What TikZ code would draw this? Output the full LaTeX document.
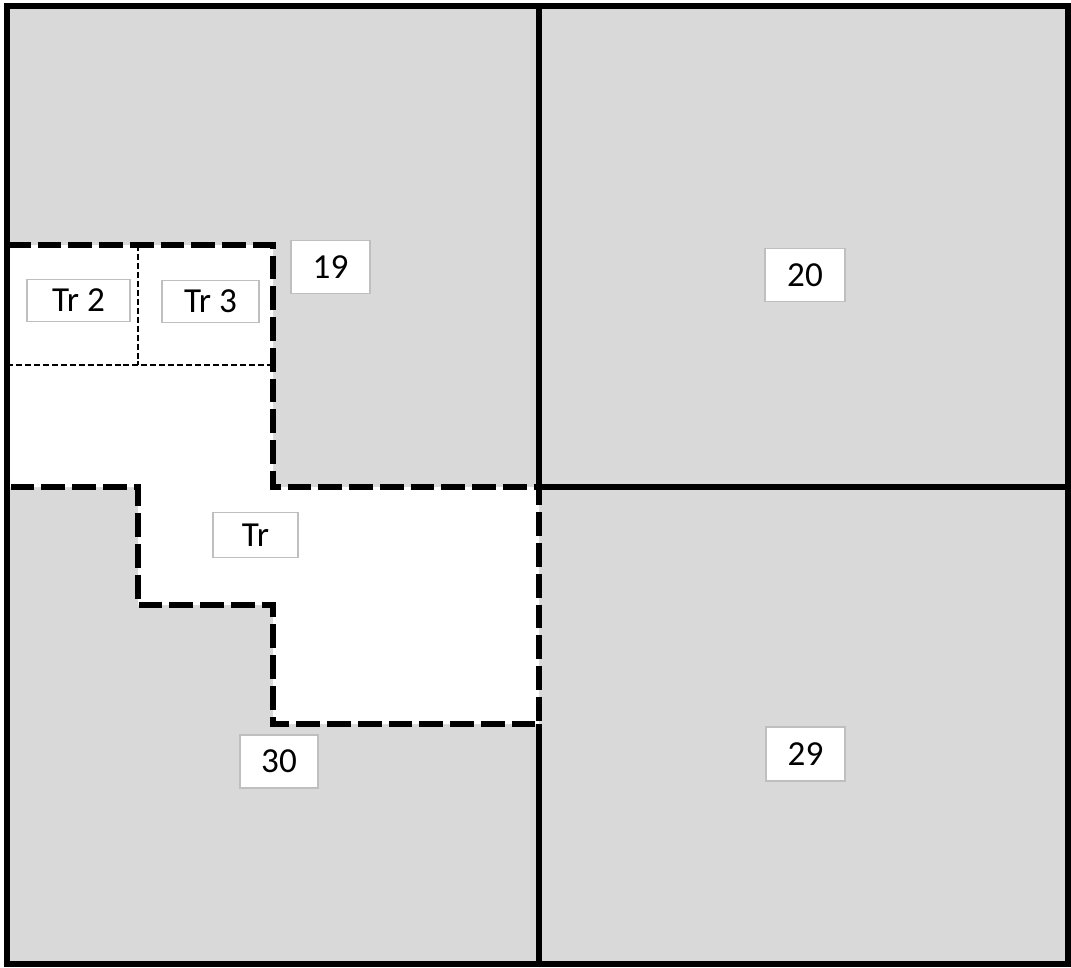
\documentclass[tikz,border=0pt]{standalone}
\usepackage{fontspec}
\setmainfont{Carlito}
\usepackage{xcolor}
\usepackage{tikz}
\usetikzlibrary{positioning}

\definecolor{cellgray}{HTML}{D9D9D9}
\definecolor{boxgray}{HTML}{BFBFBF}

\begin{document}
\begin{tikzpicture}[x=0.02cm, y=-0.02cm,
  lbl/.style={rectangle, draw=boxgray, line width=1pt, fill=white, inner sep=0pt,
    font=\fontsize{20}{22}\selectfont, minimum height=1.06cm},
  bigdash/.style={line width=3.4pt, dash pattern=on 13.5pt off 4pt},
  smalldash/.style={line width=1.5pt, dash pattern=on 3.4pt off 1.7pt}]
\useasboundingbox (0,0) rectangle (1071,967);
% Felder
\fill[cellgray] (7,6) rectangle (1068,964);
\fill[white] (7,245) -- (273,245) -- (273,487) -- (539,487) -- (539,724) -- (273,724)
  -- (273,605) -- (138,605) -- (138,487) -- (7,487) -- cycle;
% feste Grenzen
\draw[line width=3.4pt] (539,6) -- (539,487);
\draw[line width=3.4pt] (539,724) -- (539,964);
\draw[line width=3.4pt] (539,487) -- (1068,487);
% Teilung Tr 2 / Tr 3
\draw[smalldash] (7,365) -- (273,365);
\draw[smalldash] (138,245) -- (138,365);
% Umriss der Trasse
\draw[bigdash] (7,245) -- (273,245) -- (273,487) -- (539,487) -- (539,724) -- (273,724)
  -- (273,605) -- (138,605) -- (138,487) -- (7,487);
\draw[line width=3.4pt] (7,6) rectangle (1068,964);
% Beschriftungen
\node[lbl, minimum width=2.06cm, minimum height=0.84cm] (tr2) at (78.5,300.5) {Tr 2};
\node[lbl, minimum width=1.94cm, minimum height=0.84cm] (tr3) at (210.5,301.5) {Tr 3};
\node[lbl, minimum width=1.58cm] (f19) at (330.5,267) {19};
\node[lbl, minimum width=1.60cm] (f20) at (805,275) {20};
\node[lbl, minimum width=1.70cm, minimum height=0.90cm] (tr) at (255.5,535) {Tr};
\node[lbl, minimum width=1.56cm] (f30) at (279,761.5) {30};
\node[lbl, minimum width=1.58cm, minimum height=1.08cm] (f29) at (805.5,754) {29};
\end{tikzpicture}
\end{document}
